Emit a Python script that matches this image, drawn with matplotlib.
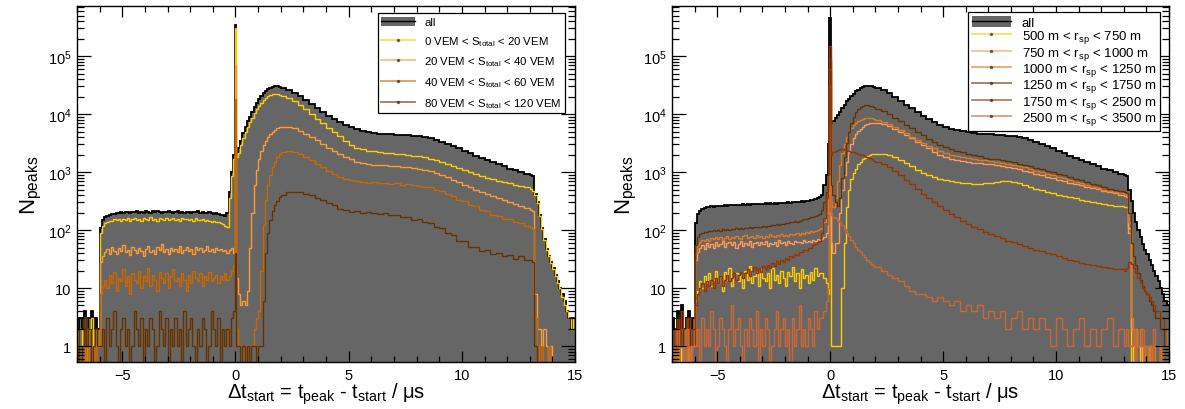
import numpy as np
import matplotlib
matplotlib.use("Agg")
import matplotlib.pyplot as plt
from matplotlib.patches import Patch
from matplotlib.lines import Line2D
from matplotlib.ticker import FixedLocator, FuncFormatter, NullFormatter

plt.rcParams['font.family'] = ['Liberation Sans', 'DejaVu Sans']
plt.rcParams['mathtext.fontset'] = 'custom'
plt.rcParams['mathtext.rm'] = 'Liberation Sans'
plt.rcParams['mathtext.it'] = 'Liberation Sans:italic'
plt.rcParams['mathtext.default'] = 'regular'

# ---------------- BINNING (shared by all histograms) ----------------
edges = np.round(np.concatenate([
    np.linspace(-7.0, -6.1, 10),      # noise before window   (10 bins)
    np.linspace(-6.0, -0.5, 56),      # plateau               (56 bins)
    [-0.4, -0.3, -0.2, -0.1, -0.04, 0.04],  # around spike    (6 bins)
    np.linspace(0.1, 1.9, 19),        # rise                  (19 bins)
    np.linspace(2.0, 12.75, 44),      # main body             (44 bins)
    [13.0, 13.1, 13.2],               # edge                  (3 bins)
    np.linspace(13.3, 14.9, 17),      # tail                  (17 bins)
    [15.0]]), 3)

# ---------------- LEFT PANEL: S_total bins ----------------
all_L = ([2, 3, 2, 4, 1, 3, 4, 2, 3, 2]
         + [110, 150, 165, 175, 182, 188, 192, 198, 195, 203,
            199, 207, 201, 196, 208, 203, 211, 200, 206, 198,
            212, 204, 199, 209, 202, 214, 205, 198, 207, 201,
            210, 203, 197, 206, 212, 200, 205, 199, 208, 203,
            196, 207, 201, 210, 198, 204, 200, 195, 203, 197,
            192, 196, 188, 185, 180, 172]
         + [200, 450, 1000, 2000, 350000, 2200]
         + [2600, 3500, 4800, 6000, 7500, 9000, 11000, 13000, 15500, 18000, 20500,
            23000, 25000, 27000, 28500, 29500, 30000, 30000, 29500]
         + [28500, 26500, 23500, 20500, 17500, 14800, 12500, 10800, 9300, 8200,
            7300, 6600, 6000, 5600, 5200, 4950, 4750, 4600, 4500, 4450,
            4400, 4350, 4300, 4250, 4150, 4000, 3800, 3550, 3300, 3050,
            2800, 2550, 2300, 2100, 1900, 1750, 1600, 1470, 1350, 1250,
            1150, 1070, 1000, 940]
         + [880, 850, 420]
         + [300, 180, 110, 70, 48, 36, 28, 22, 17, 13, 10, 8, 6, 4, 3, 2, 3])

s0_20 = ([1, 2, 1, 3, 0, 2, 3, 1, 2, 1]
         + [90, 118, 132, 138, 145, 141, 152, 147, 156, 143,
            158, 149, 161, 146, 155, 163, 150, 157, 144, 160,
            152, 148, 165, 151, 158, 146, 162, 154, 149, 160,
            147, 157, 163, 150, 155, 145, 161, 152, 158, 149,
            156, 144, 159, 151, 147, 155, 142, 150, 146, 140,
            143, 136, 138, 130, 125, 118]
         + [115, 350, 850, 1700, 300000, 1800]
         + [2100, 2900, 3900, 5000, 6000, 7200, 8700, 10300, 12000, 14000, 15800,
            17500, 19000, 20200, 21000, 21800, 22000, 22000, 21500]
         + [20500, 18800, 16500, 14200, 12000, 10000, 8300, 6900, 5800, 4900,
            4200, 3500, 2900, 2650, 2480, 2350, 2270, 2220, 2170, 2120,
            2070, 2020, 1970, 1920, 1860, 1790, 1710, 1620, 1510, 1400,
            1290, 1180, 1080, 1000, 920, 855, 800, 750, 710, 675,
            640, 610, 580, 545]
         + [510, 480, 400]
         + [290, 175, 105, 68, 46, 35, 27, 21, 16, 12, 10, 7, 5, 4, 3, 2, 3])

s20_40 = ([1, 0, 1, 1, 0, 2, 1, 0, 1, 1]
          + [28, 36, 42, 47, 39, 51, 44, 38, 49, 43,
             55, 41, 46, 37, 52, 45, 40, 50, 44, 36,
             48, 53, 42, 46, 39, 51, 45, 57, 41, 47,
             38, 50, 44, 48, 42, 54, 40, 46, 51, 43,
             47, 39, 52, 45, 49, 41, 46, 53, 44, 48,
             42, 50, 45, 47, 43, 46]
          + [40, 45, 50, 40, 70000, 15]
          + [8, 5, 6, 5, 9, 50, 200, 600, 1100, 1700, 2300, 2900, 3500, 4000,
             4500, 5000, 5400, 5800, 6000]
          + [6100, 6050, 5700, 5200, 4600, 4050, 3550, 3050, 2650, 2300,
             2050, 1850, 1650, 1520, 1440, 1380, 1340, 1310, 1300, 1280,
             1260, 1240, 1210, 1180, 1140, 1100, 1050, 980, 900, 820,
             740, 670, 600, 545, 495, 455, 415, 385, 355, 325,
             300, 280, 260, 240]
          + [225, 210, 8]
          + [2, 2, 1, 2, 1, 0, 1, 0, 0, 0, 0, 0, 0, 0, 0, 0, 0])

s40_60 = ([1, 0, 0, 1, 0, 1, 0, 1, 0, 1]
          + [8, 11, 14, 10, 17, 12, 19, 9, 15, 13,
             21, 11, 16, 8, 18, 14, 12, 20, 10, 16,
             13, 22, 11, 17, 14, 9, 19, 15, 12, 18,
             10, 16, 21, 13, 15, 11, 18, 14, 9, 17,
             12, 20, 15, 13, 18, 11, 16, 14, 19, 13,
             15, 17, 12, 16, 14, 18]
          + [14, 16, 20, 25, 18000, 2]
          + [1, 1, 0, 1, 1, 1, 1, 2, 3, 4, 20, 120, 330, 600, 900, 1200, 1500,
             1800, 2050]
          + [2250, 2350, 2250, 2050, 1850, 1600, 1400, 1200, 1050, 920,
             830, 760, 720, 690, 675, 650, 665, 640, 660, 630,
             640, 610, 620, 590, 585, 550, 545, 495, 465, 415,
             385, 335, 315, 275, 255, 225, 215, 185, 178, 155,
             152, 136, 132, 118]
          + [112, 105, 3]
          + [1, 0, 1, 0, 0, 1, 0, 0, 0, 0, 0, 0, 0, 0, 0, 0, 0])

s80_120 = ([2, 0, 1, 3, 1, 2, 0, 1, 2, 1]
           + [1, 2, 0, 3, 1, 2, 4, 1, 0, 2,
              3, 1, 2, 0, 1, 4, 2, 1, 3, 0,
              2, 1, 3, 2, 0, 1, 4, 2, 1, 3,
              0, 2, 1, 3, 1, 2, 0, 4, 1, 2,
              3, 1, 0, 2, 1, 3, 2, 0, 1, 4,
              2, 1, 3, 0, 2, 1]
           + [2, 1, 3, 4, 40, 1]
           + [1, 0, 1, 0, 1, 0, 1, 1, 0, 1, 1, 6, 40, 90, 150, 210, 270, 320, 370]
           + [410, 455, 462, 445, 415, 395, 355, 335, 295, 275,
              235, 225, 205, 212, 196, 208, 198, 192, 194, 180,
              183, 168, 168, 150, 153, 136, 132, 114, 108, 88,
              83, 66, 64, 52, 51, 44, 45, 38, 40, 35,
              37, 32, 35, 30]
           + [31, 28, 1]
           + [0] * 17)

# ---------------- RIGHT PANEL: r_sp bins ----------------
all_R = ([3, 2, 4, 1, 5, 2, 3, 4, 2, 3]
         + [130, 190, 215, 230, 238, 245, 250, 255, 252, 260,
            258, 265, 261, 268, 263, 270, 266, 273, 268, 275,
            270, 277, 272, 279, 274, 281, 276, 283, 278, 285,
            280, 287, 282, 289, 284, 291, 286, 293, 288, 296,
            292, 299, 296, 303, 300, 308, 305, 313, 310, 318,
            322, 328, 335, 342, 350, 365]
         + [400, 600, 900, 3000, 450000, 7000]
         + [7500, 8500, 9500, 11000, 12500, 14500, 16500, 18500, 20500, 22500,
            24500, 26500, 28000, 29500, 30500, 31000, 31000, 30500, 29500]
         + [28500, 26000, 23000, 20000, 17000, 14500, 12500, 10800, 9300, 8100,
            7200, 6500, 6000, 5600, 5300, 5050, 4850, 4700, 4600, 4500,
            4450, 4400, 4350, 4250, 4150, 4000, 3800, 3550, 3300, 3050,
            2800, 2550, 2300, 2100, 1900, 1750, 1600, 1470, 1350, 1250,
            1150, 1070, 1000, 940]
         + [880, 850, 500]
         + [320, 200, 140, 100, 75, 58, 46, 38, 30, 25, 20, 16, 13, 10, 8, 6, 5])

r500_750 = ([1, 0, 2, 1, 0, 1, 2, 0, 1, 1]
            + [6, 9, 13, 10, 16, 12, 18, 11, 14, 20,
               12, 16, 9, 19, 14, 22, 11, 15, 18, 13,
               17, 10, 20, 14, 24, 12, 16, 19, 11, 21,
               15, 13, 18, 10, 22, 14, 17, 12, 20, 15,
               11, 19, 16, 23, 13, 18, 10, 21, 15, 17,
               12, 19, 14, 22, 16, 18]
            + [18, 15, 12, 8, 200, 1]
            + [1, 1, 1, 1, 10, 60, 250, 500, 750, 950, 1150, 1350, 1500, 1650,
               1780, 1880, 1960, 2020, 2060]
            + [2080, 2050, 1950, 1800, 1600, 1420, 1250, 1100, 980, 880,
               810, 760, 720, 690, 670, 650, 640, 630, 630, 640,
               650, 670, 690, 690, 670, 640, 600, 560, 520, 490,
               460, 430, 410, 390, 370, 350, 335, 320, 305, 295,
               285, 275, 265, 255]
            + [250, 245, 110]
            + [0, 1, 0, 0, 1, 0, 0, 0, 1, 0, 0, 0, 0, 1, 0, 0, 0])

r750_1000 = ([0, 1, 0, 1, 1, 0, 2, 1, 0, 1]
             + [30, 42, 50, 55, 47, 60, 52, 58, 49, 62,
                54, 57, 65, 51, 59, 63, 55, 61, 50, 58,
                64, 53, 60, 56, 66, 52, 59, 62, 55, 61,
                57, 65, 53, 60, 58, 63, 54, 67, 59, 62,
                56, 64, 60, 58, 66, 61, 63, 59, 67, 62,
                65, 63, 68, 66, 70, 68]
             + [70, 75, 90, 120, 30000, 60]
             + [40, 60, 60, 200, 500, 900, 1500, 2200, 3000, 3800, 4500, 5100,
                5600, 6000, 6400, 6700, 6900, 7000, 7000]
             + [6950, 6700, 6200, 5600, 5000, 4400, 3850, 3350, 2900, 2550,
                2250, 2000, 1800, 1680, 1600, 1540, 1490, 1450, 1410, 1380,
                1350, 1310, 1270, 1220, 1170, 1110, 1050, 990, 930, 880,
                830, 780, 740, 700, 660, 620, 590, 560, 530, 505,
                480, 455, 430, 405]
             + [390, 375, 90]
             + [2, 1, 2, 1, 1, 0, 1, 0, 1, 0, 0, 0, 0, 0, 0, 0, 0])

r1000_1250 = ([1, 2, 0, 1, 2, 1, 0, 2, 1, 1]
              + [40, 55, 62, 68, 64, 70, 66, 73, 69, 75,
                 70, 77, 68, 74, 80, 71, 76, 72, 79, 74,
                 70, 78, 82, 73, 77, 80, 74, 81, 76, 79,
                 73, 80, 77, 84, 79, 76, 83, 78, 85, 80,
                 82, 78, 86, 81, 84, 88, 83, 90, 87, 92,
                 90, 95, 93, 98, 102, 106]
              + [110, 140, 200, 500, 60000, 300]
              + [250, 350, 700, 1300, 2100, 3000, 4000, 4900, 5700, 6400, 7000,
                 7500, 7900, 8200, 8400, 8500, 8500, 8400, 8200]
              + [7900, 7400, 6700, 6000, 5300, 4700, 4100, 3600, 3200, 2850,
                 2550, 2300, 2100, 1980, 1880, 1800, 1740, 1690, 1640, 1600,
                 1560, 1510, 1460, 1400, 1340, 1270, 1200, 1130, 1060, 1000,
                 940, 880, 830, 780, 730, 680, 640, 600, 560, 530,
                 500, 475, 450, 430]
              + [415, 400, 140]
              + [3, 2, 2, 1, 2, 1, 1, 0, 1, 0, 1, 0, 0, 1, 0, 0, 0])

r1250_1750 = ([2, 1, 3, 2, 1, 2, 3, 1, 2, 2]
              + [55, 75, 85, 90, 94, 92, 96, 95, 99, 97,
                 100, 98, 103, 100, 104, 102, 106, 103, 107, 105,
                 108, 106, 110, 108, 112, 109, 113, 111, 115, 113,
                 117, 115, 119, 118, 122, 120, 125, 123, 128, 127,
                 132, 131, 136, 135, 141, 140, 146, 148, 153, 156,
                 160, 165, 170, 176, 182, 190]
              + [220, 300, 450, 900, 90000, 600]
              + [400, 300, 260, 350, 800, 1800, 3200, 5000, 7000, 9000, 10800,
                 12200, 13300, 14000, 14300, 14300, 14000, 13600, 13000]
              + [12400, 11200, 9900, 8700, 7600, 6600, 5700, 4950, 4300, 3750,
                 3300, 2950, 2700, 2500, 2330, 2180, 2050, 1950, 1860, 1780,
                 1710, 1650, 1590, 1530, 1470, 1400, 1330, 1260, 1190, 1120,
                 1060, 1000, 940, 880, 820, 770, 720, 670, 630, 590,
                 550, 520, 490, 465]
              + [445, 430, 200]
              + [60, 35, 25, 18, 14, 11, 9, 8, 6, 5, 4, 3, 3, 2, 2, 1, 1])

r1750_2500 = ([2, 1, 3, 1, 4, 2, 1, 3, 2, 1]
              + [5, 8, 10, 12, 9, 13, 11, 14, 10, 15,
                 12, 16, 11, 14, 17, 13, 15, 18, 14, 17,
                 19, 15, 18, 21, 16, 20, 23, 18, 22, 19,
                 24, 21, 25, 22, 27, 24, 29, 26, 31, 28,
                 33, 31, 36, 34, 39, 37, 42, 41, 46, 45,
                 50, 49, 55, 57, 62, 66]
              + [90, 160, 350, 900, 150000, 2000]
              + [2200, 2300, 2400, 2450, 2450, 2400, 2350, 2300, 2250, 2200, 2150,
                 2080, 2000, 1930, 1860, 1790, 1720, 1650, 1580]
              + [1500, 1350, 1200, 1030, 880, 740, 620, 510, 420, 350,
                 300, 255, 220, 190, 165, 145, 128, 115, 103, 93,
                 85, 78, 72, 66, 61, 57, 53, 49, 46, 43,
                 40, 38, 36, 33, 31, 29, 27, 26, 25, 24,
                 23, 22, 21, 21]
              + [20, 22, 28]
              + [26, 22, 18, 15, 12, 10, 9, 8, 7, 6, 5, 4, 4, 3, 3, 2, 2])

r2500_3500 = ([1, 0, 2, 1, 1, 0, 2, 1, 0, 1]
              + [1, 2, 0, 3, 1, 2, 1, 4, 2, 0,
                 1, 3, 2, 1, 0, 2, 5, 1, 2, 3,
                 1, 0, 2, 1, 3, 2, 1, 4, 0, 2,
                 1, 3, 2, 0, 1, 2, 4, 1, 2, 3,
                 1, 2, 0, 3, 1, 2, 5, 1, 2, 1,
                 3, 2, 1, 4, 2, 3]
              + [3, 4, 6, 10, 400, 180]
              + [170, 160, 150, 135, 120, 105, 90, 78, 68, 60, 52, 46, 41, 37, 34,
                 31, 28, 26, 24]
              + [23, 20, 17, 15, 13, 11, 9, 8, 8, 7,
                 6, 7, 6, 5, 6, 4, 5, 4, 5, 3,
                 4, 3, 4, 2, 3, 4, 2, 3, 2, 3,
                 2, 1, 3, 2, 1, 2, 3, 1, 2, 1,
                 2, 3, 1, 2]
              + [1, 2, 1]
              + [1, 2, 0, 1, 1, 2, 0, 1, 1, 0, 2, 1, 1, 0, 1, 1, 2])

labels_L = ['0 VEM < S$_{total}$ < 20 VEM', '20 VEM < S$_{total}$ < 40 VEM',
            '40 VEM < S$_{total}$ < 60 VEM', '80 VEM < S$_{total}$ < 120 VEM']
labels_R = ['500 m < r$_{sp}$ < 750 m', '750 m < r$_{sp}$ < 1000 m',
            '1000 m < r$_{sp}$ < 1250 m', '1250 m < r$_{sp}$ < 1750 m',
            '1750 m < r$_{sp}$ < 2500 m', '2500 m < r$_{sp}$ < 3500 m']

GRAY = '#666666'
colors_L = ['#ffcc00', '#ff9933', '#cc6600', '#663300']
colors_R = ['#ffcc00', '#ff9955', '#e07820', '#663300', '#993300', '#cc6633']

FLOOR = 0.05
YMIN, YMAX = 0.53, 7.3e5

y_major = [1, 10, 1e2, 1e3, 1e4, 1e5]
y_minor = [k * 10.0 ** e for e in range(-1, 6) for k in range(2, 10)
           if YMIN < k * 10.0 ** e < YMAX]


def log_label(v, pos):
    e = int(round(np.log10(v)))
    if e == 0:
        return '1'
    if e == 1:
        return '10'
    return '10$^{%d}$' % e


def draw_panel(ax, all_vals, series, colors, labels, leg_anchor, leg_fs, leg_sp):
    a = np.clip(np.array(all_vals, float), FLOOR, None)
    ax.stairs(a, edges, fill=True, color=GRAY, baseline=FLOOR, lw=0)
    ax.stairs(a, edges, color='black', lw=1.3, baseline=None)
    for vals, c in zip(series, colors):
        v = np.clip(np.array(vals, float), FLOOR, None)
        ax.stairs(v, edges, color=c, lw=1.0, baseline=None)

    ax.set_yscale('log')
    ax.set_xlim(-7, 15)
    ax.set_ylim(YMIN, YMAX)
    ax.xaxis.set_major_locator(FixedLocator([-5, 0, 5, 10, 15]))
    ax.xaxis.set_minor_locator(FixedLocator(np.arange(-7, 16)))
    ax.yaxis.set_major_locator(FixedLocator(y_major))
    ax.yaxis.set_minor_locator(FixedLocator(y_minor))
    ax.yaxis.set_major_formatter(FuncFormatter(log_label))
    ax.yaxis.set_minor_formatter(NullFormatter())
    ax.tick_params(which='both', direction='in', top=True, right=True,
                   labelsize=10.5, width=0.9)
    ax.tick_params(axis='x', which='major', length=8, pad=4)
    ax.tick_params(axis='x', which='minor', length=4)
    ax.tick_params(axis='y', which='major', length=10, pad=4)
    ax.tick_params(axis='y', which='minor', length=5)
    for sp in ax.spines.values():
        sp.set_linewidth(1.0)

    ax.set_xlabel('Δt$_{start}$ = t$_{peak}$ - t$_{start}$ / μs', fontsize=14.5, labelpad=-1)
    ax.set_ylabel('N$_{peaks}$', fontsize=16, labelpad=3)

    handles = [(Patch(facecolor=GRAY, edgecolor='none'),
                Line2D([], [], color='black', lw=1.0))]
    for c in colors:
        handles.append(Line2D([], [], color=c, lw=1.3, alpha=0.65, marker='o',
                              markersize=1.5, markerfacecolor='#333333',
                              markeredgecolor='#333333'))
    leg = ax.legend(handles, ['all'] + labels, loc='upper right',
                    bbox_to_anchor=leg_anchor, fontsize=leg_fs, frameon=True,
                    fancybox=False, framealpha=1, edgecolor='black',
                    handlelength=3.0, handletextpad=0.8, borderaxespad=0,
                    labelspacing=leg_sp, borderpad=0.3, handleheight=0.9)
    leg.get_frame().set_linewidth(0.9)


fig = plt.figure(figsize=(11.85, 4.10), dpi=100)
axL = fig.add_axes([0.0650, 0.1146, 0.4203, 0.8683])
axR = fig.add_axes([0.5671, 0.1146, 0.4194, 0.8683])

draw_panel(axL, all_L, [s0_20, s20_40, s40_60, s80_120], colors_L, labels_L,
           (0.98, 0.98), 8.2, 0.6)
draw_panel(axR, all_R, [r500_750, r750_1000, r1000_1250, r1250_1750, r1750_2500,
                        r2500_3500], colors_R, labels_R, (0.982, 0.983), 9.5, -0.05)

fig.savefig('out.png', dpi=100)
